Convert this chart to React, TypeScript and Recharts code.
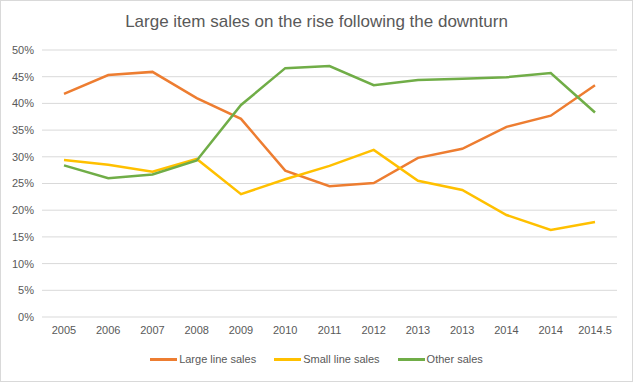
import { LineChart, Line, XAxis, YAxis, CartesianGrid } from 'recharts'

const years = ['2005', '2006', '2007', '2008', '2009', '2010', '2011', '2012', '2013', '2013', '2014', '2014', '2014.5']
const largeLine = [41.8, 45.3, 45.9, 41.0, 37.1, 27.4, 24.5, 25.1, 29.8, 31.5, 35.6, 37.7, 43.4]
const smallLine = [29.4, 28.5, 27.2, 29.6, 23.0, 25.8, 28.3, 31.3, 25.5, 23.8, 19.1, 16.3, 17.8]
const otherSales = [28.4, 26.0, 26.7, 29.3, 39.7, 46.6, 47.0, 43.4, 44.4, 44.6, 44.9, 45.7, 38.3]
const yTicks = [0, 5, 10, 15, 20, 25, 30, 35, 40, 45, 50]

const data = years.map((label, i) => ({
  label,
  large: largeLine[i],
  small: smallLine[i],
  other: otherSales[i],
}))

const font = '"Liberation Sans", Arial, sans-serif'
const grey = '#595959'

const series = [
  { key: 'large', name: 'Large line sales', color: '#ED7D31' },
  { key: 'small', name: 'Small line sales', color: '#FFC000' },
  { key: 'other', name: 'Other sales', color: '#70AD47' },
]

export default function App() {
  return (
    <div style={{ position: 'absolute', left: 0, top: 0, width: 633, height: 382, background: '#fff', boxSizing: 'border-box', border: '1px solid #D9D9D9' }}>
      <div style={{ position: 'absolute', top: 11, left: 0, width: 631, textAlign: 'center', fontFamily: font, fontSize: 17, color: grey }}>
        Large item sales on the rise following the downturn
      </div>
      <LineChart width={631} height={380} data={data} margin={{ top: 49, right: 15, bottom: 34, left: 0 }}>
        <CartesianGrid vertical={false} stroke="#D9D9D9" />
        <XAxis
          dataKey="label"
          axisLine={false}
          tickLine={false}
          interval={0}
          padding={{ left: 22, right: 22 }}
          tick={{ fontSize: 11, fill: grey, fontFamily: font }}
          tickMargin={3}
        />
        <YAxis
          width={41}
          domain={[0, 50]}
          ticks={yTicks}
          axisLine={false}
          tickLine={false}
          tickFormatter={v => `${v}%`}
          tick={{ fontSize: 11, fill: grey, fontFamily: font }}
        />
        {series.map(s => (
          <Line
            key={s.key}
            type="linear"
            dataKey={s.key}
            name={s.name}
            stroke={s.color}
            strokeWidth={2.5}
            dot={false}
            isAnimationActive={false}
          />
        ))}
      </LineChart>
      <div style={{ position: 'absolute', top: 352, left: 0, width: 631, display: 'flex', justifyContent: 'center', gap: 18, fontFamily: font, fontSize: 11, color: grey }}>
        {series.map(s => (
          <span key={s.key} style={{ display: 'flex', alignItems: 'center', gap: 2 }}>
            <span style={{ display: 'inline-block', width: 27, height: 3, background: s.color }} />
            {s.name}
          </span>
        ))}
      </div>
    </div>
  )
}
